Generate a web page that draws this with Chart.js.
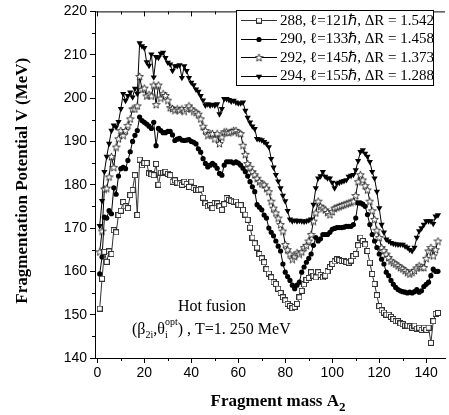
<!DOCTYPE html>
<html>
<head>
<meta charset="utf-8">
<script src="https://cdn.jsdelivr.net/npm/chart.js@4.4.1/dist/chart.umd.min.js"></script>
<style>
  html, body { margin: 0; padding: 0; background: #fff; }
  #wrap { width: 449px; height: 415px; }
</style>
</head>
<body>
<div id="wrap"><canvas id="fragChart" width="449" height="415"></canvas></div>
<script>
// fragment masses A2 = 1 .. 145
var massA2 = Array.from({ length: 145 }, function (_, i) { return i + 1; });

var v288 = [
  151.4, 158.3, 164.5, 162.2, 164.6, 164.0, 169.5, 169.0, 173.0, 174.0,
  176.0, 175.0, 174.6, 177.6, 178.8, 182.2, 173.0, 185.8, 184.5, 185.0,
  185.0, 182.6, 182.4, 182.2, 184.8, 180.0, 182.8, 182.8, 183.0, 182.5,
  182.2, 180.7, 181.0, 180.5, 180.3, 180.0, 180.7, 180.2, 179.5, 180.7,
  179.2, 178.8, 178.8, 178.9, 177.0, 175.7, 175.0, 175.3, 174.6, 175.8,
  175.7, 175.0, 174.2, 175.5, 176.9, 176.5, 176.3, 176.1, 176.1, 175.4,
  175.3, 174.2, 173.1, 171.9, 170.1, 167.8, 166.5, 165.5, 164.0, 163.0,
  162.1, 160.5, 159.5, 158.6, 157.5, 157.1, 156.0, 155.0, 154.0, 153.3,
  152.5, 152.0, 151.5, 151.8, 152.5, 154.0, 155.5, 157.0, 158.0, 158.5,
  159.8, 159.0, 158.6, 159.8, 159.2, 158.6, 159.0, 160.0, 161.0, 161.7,
  162.3, 162.8, 162.6, 162.4, 162.4, 162.2, 162.0, 162.5, 163.5, 164.0,
  166.0, 167.8, 167.0, 166.2, 164.7, 162.0, 159.4, 157.1, 154.5, 152.0,
  151.0, 150.5, 150.0, 150.0, 149.5, 149.0, 148.5, 148.5, 148.0, 147.8,
  147.5, 147.5, 147.3, 147.0, 147.5, 146.8, 147.0, 146.5, 147.0, 146.5,
  147.0, 143.5, 148.5, 150.2, 150.4
];
var v290 = [
  159.4, 163.3, 172.5, 172.3, 174.0, 173.3, 179.3, 177.8, 182.0, 183.7,
  184.0, 183.7, 185.6, 187.6, 190.0, 191.4, 192.5, 195.6, 194.8, 194.4,
  194.0, 193.5, 193.0, 194.4, 189.0, 193.0, 192.5, 192.0, 192.0, 192.3,
  192.3, 191.5, 190.2, 190.5, 190.7, 190.3, 190.2, 190.3, 190.4, 190.0,
  189.8, 189.4, 188.3, 187.5, 186.0, 184.9, 184.1, 184.5, 184.9, 184.5,
  183.8, 182.6, 182.2, 184.5, 185.3, 185.3, 185.3, 185.0, 185.3, 185.0,
  184.5, 183.8, 183.0, 182.0, 180.7, 179.5, 178.4, 175.4, 174.8, 174.2,
  173.0, 172.3, 170.0, 169.0, 168.2, 167.0, 165.8, 164.7, 161.7, 159.8,
  158.8, 157.9, 156.8, 156.0, 156.8, 157.5, 159.8, 161.0, 162.1, 163.0,
  164.0, 166.0, 167.8, 167.0, 167.5, 168.5, 168.5, 168.5, 169.0, 169.7,
  169.9, 170.1, 170.1, 170.1, 170.2, 170.4, 170.4, 170.4, 170.8, 172.3,
  175.8, 175.8, 175.5, 175.0, 173.1, 170.8, 168.5, 167.0, 165.5, 164.0,
  162.8, 161.7, 159.8, 159.0, 157.9, 157.0, 156.3, 155.8, 155.5, 155.3,
  155.2, 155.0, 155.2, 155.0, 155.3, 155.8, 155.2, 155.5, 156.5, 157.0,
  157.5, 159.0, 160.5, 160.0, 160.0
];
var v292 = [
  164.5, 169.3, 179.0, 179.2, 181.8, 186.5, 184.0, 188.7, 190.6, 192.5,
  191.4, 192.5, 193.7, 195.2, 197.5, 197.5, 198.2, 205.0, 202.0, 202.3,
  200.5, 200.8, 200.5, 203.0, 198.5, 203.0, 200.0, 201.0, 200.6, 199.5,
  197.8, 197.6, 197.2, 197.5, 197.2, 197.5, 197.0, 197.6, 198.2, 197.5,
  197.0, 196.7, 196.3, 195.2, 193.5, 192.5, 191.4, 191.8, 191.8, 190.6,
  191.8, 189.5, 191.0, 192.2, 192.2, 192.0, 192.2, 192.5, 192.5, 192.0,
  191.8, 189.1, 187.0, 184.9, 184.0, 183.0, 182.3, 181.5, 180.7, 180.2,
  180.0, 179.2, 178.4, 176.2, 174.6, 173.5, 172.3, 170.8, 169.3, 166.2,
  165.0, 164.0, 162.8, 163.5, 164.3, 164.0, 164.5, 165.5, 166.0, 167.0,
  168.5, 171.6, 173.5, 176.2, 175.0, 174.6, 174.2, 173.6, 173.1, 173.8,
  174.6, 174.8, 175.0, 175.2, 175.4, 175.6, 175.8, 176.0, 176.2, 177.5,
  180.7, 182.3, 181.1, 179.8, 178.8, 176.2, 174.0, 172.0, 169.5, 167.8,
  165.5, 164.8, 164.0, 163.2, 162.4, 162.0, 161.7, 161.3, 160.9, 160.6,
  160.2, 159.8, 159.4, 159.8, 160.2, 160.8, 161.3, 161.0, 160.9, 163.0,
  164.7, 165.5, 163.6, 165.0, 167.0
];
var v294 = [
  170.5, 176.3, 183.0, 186.5, 189.5, 192.5, 193.7, 193.3, 194.5, 197.5,
  201.0, 199.4, 200.5, 201.3, 200.2, 202.2, 201.0, 212.7, 212.0, 211.6,
  208.3, 207.5, 210.1, 204.8, 209.5, 209.3, 210.3, 210.5, 209.3, 208.2,
  207.8, 206.3, 207.4, 207.4, 207.6, 204.7, 207.4, 206.3, 204.7, 203.6,
  203.0, 202.0, 201.5, 200.5, 199.5, 198.3, 198.6, 198.3, 198.5, 198.3,
  198.6, 196.3, 197.5, 199.8, 199.8, 199.6, 199.2, 199.4, 199.0, 198.8,
  198.8, 199.0, 197.1, 195.5, 194.4, 193.5, 192.9, 190.6, 190.5, 190.3,
  189.9, 189.5, 188.7, 186.0, 184.0, 182.3, 180.8, 179.2, 177.5, 176.2,
  174.0, 172.0, 171.6, 171.8, 171.6, 171.7, 171.6, 171.5, 171.6, 171.8,
  172.0, 175.4, 179.2, 181.5, 182.0, 183.0, 181.9, 181.5, 181.5, 180.5,
  179.2, 180.3, 180.5, 180.7, 180.9, 181.1, 181.9, 182.1, 182.3, 183.4,
  185.5, 187.6, 188.0, 187.2, 186.5, 185.3, 183.0, 181.5, 178.4, 174.6,
  170.8, 169.0, 167.4, 167.0, 166.6, 166.4, 166.3, 166.2, 166.2, 166.2,
  165.8, 165.5, 165.0, 164.7, 165.5, 167.8, 169.3, 170.0, 170.8, 171.6,
  171.6, 171.6, 171.0, 172.7, 173.0
];

var xTicks = [0, 20, 40, 60, 80, 100, 120, 140];
var yTicks = [140, 150, 160, 170, 180, 190, 200, 210, 220];
var legendLabels = [
  "288, \u2113=121\u210F, \u0394R = 1.542",
  "290, \u2113=133\u210F, \u0394R = 1.458",
  "292, \u2113=145\u210F, \u0394R = 1.373",
  "294, \u2113=155\u210F, \u0394R = 1.288"
];

// marker images
function makeSquare() {
  var c = document.createElement("canvas");
  c.width = 6; c.height = 6;
  var g = c.getContext("2d");
  g.fillStyle = "#fff"; g.fillRect(0, 0, 6, 6);
  g.strokeStyle = "#333"; g.lineWidth = 1;
  g.strokeRect(0.5, 0.5, 5, 5);
  return c;
}
function makeStar() {
  var c = document.createElement("canvas");
  c.width = 9; c.height = 9;
  var g = c.getContext("2d");
  g.beginPath();
  for (var k = 0; k < 10; k++) {
    var r = k % 2 === 0 ? 4.0 : 1.7;
    var a = -Math.PI / 2 + k * Math.PI / 5;
    var px = 4.5 + r * Math.cos(a), py = 4.9 + r * Math.sin(a);
    if (k === 0) g.moveTo(px, py); else g.lineTo(px, py);
  }
  g.closePath();
  g.fillStyle = "#fff"; g.fill();
  g.strokeStyle = "#111"; g.lineWidth = 0.8; g.stroke();
  return c;
}
var squareImg = makeSquare();
var starImg = makeStar();

function toPoints(vals) {
  return vals.map(function (v, i) { return { x: massA2[i], y: v }; });
}

var seriesStyle = [
  { data: v288, color: "#333", pointStyle: squareImg, radius: 3, rotation: 0 },
  { data: v290, color: "#000", pointStyle: "circle", radius: 2.6, rotation: 0 },
  { data: v292, color: "#000", pointStyle: starImg, radius: 4, rotation: 0 },
  { data: v294, color: "#000", pointStyle: "triangle", radius: 3.6, rotation: 180 }
];

var datasets = seriesStyle.map(function (s, i) {
  return {
    label: legendLabels[i],
    data: toPoints(s.data),
    borderColor: s.color,
    backgroundColor: "#000",
    borderWidth: 1,
    pointStyle: s.pointStyle,
    pointRadius: s.radius,
    pointBorderWidth: 0,
    pointBackgroundColor: "#000",
    rotation: s.rotation,
    tension: 0
  };
});

var decorPlugin = {
  id: "decor",
  afterDraw: function (chart) {
    var ctx = chart.ctx, ca = chart.chartArea;
    var xs = chart.scales.x, ys = chart.scales.y;
    ctx.save();
    ctx.strokeStyle = "#000";
    ctx.lineWidth = 1;
    // top frame
    ctx.beginPath();
    ctx.moveTo(ca.left, ca.top + 0.5);
    ctx.lineTo(ca.right, ca.top + 0.5);
    ctx.stroke();
    // minor ticks + top ticks
    ctx.beginPath();
    for (var xv = 0; xv <= 140; xv += 10) {
      var px = Math.round(xs.getPixelForValue(xv)) + 0.5;
      if (xv % 20 !== 0) {
        ctx.moveTo(px, ca.bottom); ctx.lineTo(px, ca.bottom + 3);
      }
      ctx.moveTo(px, ca.top); ctx.lineTo(px, ca.top + (xv % 20 === 0 ? 5 : 3));
    }
    for (var yv = 145; yv < 220; yv += 10) {
      var py = Math.round(ys.getPixelForValue(yv)) + 0.5;
      ctx.moveTo(ca.left, py); ctx.lineTo(ca.left - 3, py);
    }
    ctx.stroke();

    // y title
    ctx.fillStyle = "#000";
    ctx.font = "bold 17px 'Liberation Serif'";
    ctx.textAlign = "center";
    ctx.textBaseline = "middle";
    ctx.save();
    ctx.translate(23, (ca.top + ca.bottom) / 2 - 4);
    ctx.rotate(-Math.PI / 2);
    ctx.fillText("Fragmentation Potential V (MeV)", 0, 0);
    ctx.restore();

    // x title with subscript
    ctx.textAlign = "left";
    ctx.textBaseline = "alphabetic";
    var main = "Fragment mass A";
    ctx.font = "bold 17px 'Liberation Serif'";
    var w1 = ctx.measureText(main).width;
    ctx.font = "bold 13px 'Liberation Serif'";
    var w2 = ctx.measureText("2").width;
    var x0 = (ca.left + ca.right) / 2 + 8 - (w1 + w2) / 2;
    ctx.font = "bold 17px 'Liberation Serif'";
    ctx.fillText(main, x0, 406);
    ctx.font = "bold 13px 'Liberation Serif'";
    ctx.fillText("2", x0 + w1, 411);

    // annotation
    ctx.font = "16px 'Liberation Serif'";
    ctx.textAlign = "center";
    ctx.fillText("Hot fusion", 212, 311);
    ctx.textAlign = "left";
    var bx = 132, by = 334;
    function put(t, font, dy) {
      ctx.font = font;
      ctx.fillText(t, bx, by + dy);
      bx += ctx.measureText(t).width;
    }
    put("(\u03B2", "16px 'Liberation Serif'", 0);
    put("2i", "10px 'Liberation Serif'", 4);
    put(",\u03B8", "16px 'Liberation Serif'", 0);
    ctx.font = "10px 'Liberation Serif'";
    var ix = bx;
    ctx.fillText("i", ix, by + 4);
    ctx.fillText("opt", ix, by - 9);
    bx += ctx.measureText("opt").width;
    put(") , T=1. 250 MeV", "16px 'Liberation Serif'", 0);

    // legend
    var lx = 236.5, ly = 10.5, lw = 197, lh = 75;
    ctx.fillStyle = "#fff";
    ctx.fillRect(lx, ly, lw, lh);
    ctx.strokeStyle = "#000";
    ctx.strokeRect(lx, ly, lw, lh);
    var rows = [20, 38.5, 57, 75.5];
    for (var i = 0; i < 4; i++) {
      var ry = Math.round(rows[i]) + 0.5;
      ctx.strokeStyle = seriesStyle[i].color;
      ctx.beginPath();
      ctx.moveTo(241, ry);
      ctx.lineTo(277, ry);
      ctx.stroke();
      ctx.fillStyle = "#000";
      Chart.helpers.drawPoint(ctx, {
        pointStyle: seriesStyle[i].pointStyle,
        rotation: seriesStyle[i].rotation,
        radius: seriesStyle[i].radius,
        borderWidth: 0
      }, 259, ry);
      ctx.fillStyle = "#000";
      ctx.font = "15px 'Liberation Serif'";
      ctx.textBaseline = "middle";
      ctx.fillText(legendLabels[i], 280, rows[i] + 1);
    }
    ctx.restore();
  }
};

var ctxEl = document.getElementById("fragChart").getContext("2d");
var fragChart = new Chart(ctxEl, {
  type: "line",
  data: { datasets: datasets },
  options: {
    responsive: false,
    animation: false,
    devicePixelRatio: 1,
    layout: { padding: { top: 7, right: 0, left: 0, bottom: 0 } },
    plugins: { legend: { display: false }, tooltip: { enabled: false } },
    scales: {
      x: {
        type: "linear",
        min: -1,
        max: 148,
        afterFit: function (s) { s.height = 57; },
        afterBuildTicks: function (s) { s.ticks = xTicks.map(function (v) { return { value: v }; }); },
        grid: { drawOnChartArea: false, color: "#000", tickLength: 5, tickColor: "#000" },
        border: { color: "#000", width: 1 },
        ticks: { color: "#000", font: { family: "'Liberation Sans'", size: 14 }, padding: 2, maxRotation: 0, autoSkip: false }
      },
      y: {
        min: 140,
        max: 220,
        afterFit: function (s) { s.width = 95; },
        afterBuildTicks: function (s) { s.ticks = yTicks.map(function (v) { return { value: v }; }); },
        grid: { drawOnChartArea: false, color: "#000", tickLength: 5, tickColor: "#000" },
        border: { color: "#000", width: 1 },
        ticks: { color: "#000", font: { family: "'Liberation Sans'", size: 14 }, padding: 3, autoSkip: false }
      }
    }
  },
  plugins: [decorPlugin]
});
</script>
</body>
</html>
